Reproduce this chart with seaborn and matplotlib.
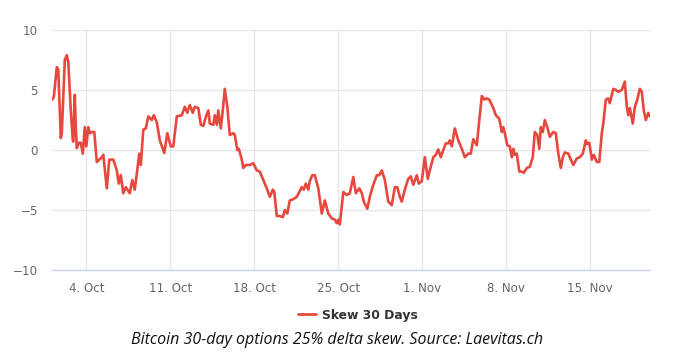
import numpy as np
import pandas as pd
import matplotlib
matplotlib.use("Agg")
import matplotlib.pyplot as plt
from matplotlib.lines import Line2D
import seaborn as sns

# hours elapsed since 2020-10-01 00:00 and skew values
hours = [3, 7, 13, 16, 21, 23, 29, 33, 36, 41, 45, 46, 49, 51, 53, 57, 61, 65, 69, 72,
         76, 79, 83, 88, 93, 98, 103, 106, 113, 118, 126, 133, 137, 141, 146, 151, 159, 164, 169, 178,
         181, 186, 191, 196, 203, 207, 213, 219, 228, 234, 241, 246, 253, 263, 269, 274, 279, 285, 289, 296,
         301, 306, 311, 316, 319, 326, 329, 333, 336, 341, 345, 349, 354, 359, 366, 369, 374, 377, 383, 386,
         391, 399, 406, 413, 419, 426, 433, 439, 445, 448, 453, 459, 465, 469, 474, 479, 486, 493, 503, 507,
         511, 516, 519, 524, 529, 536, 543, 549, 556, 563, 569, 573, 576, 579, 586, 593, 599, 606, 611, 618,
         623, 627, 634, 639, 646, 653, 658, 663, 669, 676, 683, 689, 694, 699, 703, 709, 716, 721, 726, 733,
         737, 743, 749, 755, 759, 766, 771, 776, 781, 786, 791, 796, 799, 803, 809, 816, 823, 829, 836, 841,
         846, 853, 858, 863, 868, 873, 878, 886, 891, 898, 903, 906, 909, 914, 919, 923, 926, 929, 933, 938,
         943, 947, 953, 959, 965, 969, 974, 978, 981, 985, 989, 994, 999, 1006, 1011, 1016, 1021, 1025, 1029, 1036,
         1041, 1046, 1053, 1059, 1065, 1071, 1074, 1078, 1083, 1087, 1093, 1098, 1103, 1106, 1111, 1116, 1119, 1126, 1131, 1136,
         1143, 1149, 1153, 1156, 1159, 1165, 1169, 1174, 1179, 1183, 1187, 1191, 1196, 1199]
skew = [4.17, 4.4, 6.9, 6.7, 1.0, 1.4, 7.5, 7.9, 7.3, 3.3, 0.8, 0.7, 4.6, 1.9, 0.15, 0.6, 0.6, -0.3, 1.9, 0.3,
        1.9, 1.4, 1.5, 1.5, -1.0, -0.8, -0.6, -0.4, -3.2, -0.8, -0.8, -1.7, -2.8, -2.1, -3.6, -3.1, -3.6, -2.5, -3.3, -0.3,
        -1.25, 1.7, 1.8, 2.8, 2.5, 2.9, 2.3, 0.8, -0.25, 1.4, 0.3, 0.3, 2.8, 2.9, 3.6, 3.1, 3.75, 3.1, 3.6, 3.5,
        2.1, 2.0, 2.75, 3.3, 2.2, 2.1, 2.9, 2.1, 3.3, 1.8, 3.3, 5.1, 3.6, 1.25, 1.4, 1.25, 0.0, 0.1, -0.8, -1.5,
        -1.25, -1.25, -1.1, -1.7, -1.8, -2.5, -3.2, -3.9, -3.3, -3.5, -5.5, -5.5, -5.6, -5.0, -5.3, -4.2, -4.1, -3.9, -3.1, -3.3,
        -2.8, -3.3, -2.6, -2.1, -2.1, -3.2, -5.3, -4.2, -5.3, -5.7, -5.8, -6.1, -5.8, -6.2, -3.5, -3.75, -3.6, -2.25, -3.6, -3.2,
        -3.6, -4.3, -4.9, -3.9, -2.9, -2.1, -2.1, -1.7, -2.5, -4.3, -4.6, -3.1, -3.1, -3.9, -4.3, -3.3, -2.4, -2.2, -2.9, -2.1,
        -2.8, -2.6, -0.6, -2.4, -1.7, -0.6, -0.4, 0.05, -0.6, 0.0, 0.55, 0.55, 0.8, 0.3, 1.8, 0.8, 0.1, -0.6, -0.3, -0.3,
        0.9, 0.4, 2.5, 4.5, 4.2, 4.3, 4.2, 3.5, 2.9, 2.6, 1.5, 1.9, 1.4, 0.4, 0.3, -0.6, 0.1, -0.4, -0.3, -1.8,
        -1.8, -1.9, -1.5, -1.4, -0.6, 1.5, 1.25, 0.1, 1.9, 1.5, 2.5, 1.9, 1.1, 1.5, 1.4, -0.3, -1.5, -0.6, -0.2, -0.3,
        -0.8, -1.25, -0.7, -0.6, -0.3, 0.8, 0.5, 0.6, -0.8, -0.4, -1.0, -1.0, 1.4, 2.2, 4.2, 4.3, 3.9, 5.1, 5.0, 4.85,
        5.0, 5.7, 3.6, 2.9, 3.5, 2.2, 3.6, 4.2, 5.1, 4.85, 3.3, 2.5, 3.1, 2.8]

tick_dates = ["2020-10-04", "2020-10-11", "2020-10-18", "2020-10-25", "2020-11-01", "2020-11-08", "2020-11-15"]
tick_labels = ["4. Oct", "11. Oct", "18. Oct", "25. Oct", "1. Nov", "8. Nov", "15. Nov"]
y_ticks = [-10, -5, 0, 5, 10]
y_tick_labels = ["\u221210", "\u22125", "0", "5", "10"]
series_name = "Skew 30 Days"
caption = "Bitcoin 30-day options 25% delta skew. Source: Laevitas.ch"

start = pd.Timestamp("2020-10-01 00:00")
df = pd.DataFrame({"time": start + pd.to_timedelta(hours, unit="h"), "skew": skew, "series": series_name})

sns.set_style("white")
plt.rcParams["font.family"] = ["DejaVu Sans"]

W, H = 693, 360
fig = plt.figure(figsize=(W / 100, H / 100), dpi=100)
ax = fig.add_axes([52 / W, 1 - 270 / H, (650 - 52) / W, (270 - 30) / H])

red = "#e8473d"
sns.lineplot(data=df, x="time", y="skew", hue="series", palette=[red], linewidth=1.9, ax=ax, legend=False)

ax.set_xlim(start + pd.Timedelta(hours=3.4), start + pd.Timedelta(hours=1199.4))
ax.set_ylim(-10, 10)
ax.set_yticks(y_ticks)
ax.set_yticklabels(y_tick_labels)
ax.set_xticks(pd.to_datetime(tick_dates))
ax.set_xticklabels(tick_labels)
ax.set_xlabel("")
ax.set_ylabel("")

for s in ["top", "right", "left"]:
    ax.spines[s].set_visible(False)
ax.spines["bottom"].set_color("#ccd6eb")
ax.spines["bottom"].set_linewidth(1)

ax.grid(True, axis="y", color="#e6e6e6", linewidth=1)
ax.grid(True, axis="x", color="#e6e6ee", linewidth=1)
ax.set_axisbelow(True)

ax.tick_params(axis="x", length=7.2, width=1, color="#ccd6eb", pad=1.5, labelsize=8.6, labelcolor="#666666")
ax.tick_params(axis="y", length=0, pad=10, labelsize=8.6, labelcolor="#666666")

# legend
handle = Line2D([0], [0], color=red, linewidth=2)
leg = fig.legend([handle], [series_name], loc="center", bbox_to_anchor=(358 / W, 1 - 315 / H),
                 frameon=False, handlelength=1.5, handletextpad=0.5,
                 prop={"weight": "bold", "size": 8.9, "family": "DejaVu Sans"})
for t in leg.get_texts():
    t.set_color("#333333")

fig.text(337 / W, 1 - 340 / H, caption, ha="center", va="center", fontsize=11.5,
         style="italic", color="#111111", family=["Open Sans", "DejaVu Sans"])

fig.savefig("out.png", dpi=100)
